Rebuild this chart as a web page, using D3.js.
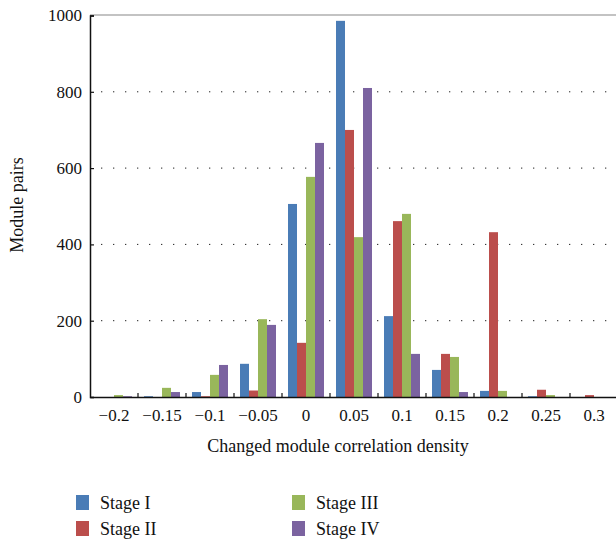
<!DOCTYPE html>
<html><head><meta charset="utf-8">
<script src="https://cdn.jsdelivr.net/npm/d3@7"></script>
<style>body{margin:0;background:#fff}svg{display:block}text{font-family:"Liberation Serif","DejaVu Serif",serif;fill:#111}</style>
</head><body><svg id="c" width="616" height="543"></svg>
<script>
const categories = ["\u22120.2","\u22120.15","\u22120.1","\u22120.05","0","0.05","0.1","0.15","0.2","0.25","0.3"];
const seriesNames = ["Stage I","Stage II","Stage III","Stage IV"];
const stageI   = [0, 2, 13, 87, 506, 986, 212, 71, 16, 2, 0];
const stageII  = [0, 0, 2, 17, 142, 700, 461, 113, 432, 19, 5];
const stageIII = [5, 24, 58, 204, 577, 419, 480, 105, 16, 5, 0];
const stageIV  = [2, 13, 84, 189, 666, 810, 113, 13, 0, 0, 0];
const yTicks = [0, 200, 400, 600, 800, 1000];
const colors = ["#4a7cb6","#bb4e4c","#99b75a","#7b63a0"];
const series = [stageI, stageII, stageIII, stageIV];

const svg = d3.select("#c");
const L = 90, R = 618, T = 15.5, B = 397;
const x = d3.scaleBand().domain(categories).range([L, R]).paddingInner(0).paddingOuter(0);
const xi = d3.scaleBand().domain(seriesNames).range([0, x.bandwidth()]).paddingInner(0).paddingOuter(0.667);
const y = d3.scaleLinear().domain([0, 1000]).range([B, T]);

// grid
svg.append("g").selectAll("line").data(yTicks.filter(d => d > 0 && d < 1000)).join("line")
  .attr("x1", L + 11).attr("x2", R).attr("y1", d => y(d)).attr("y2", d => y(d))
  .attr("stroke", "#222").attr("stroke-width", 1).attr("stroke-dasharray", "1.3,10.7");

// bars
const g = svg.append("g");
series.forEach((s, si) => {
  g.selectAll(null).data(s).join("rect")
    .attr("x", (d, i) => x(categories[i]) + xi(seriesNames[si]))
    .attr("width", xi.bandwidth())
    .attr("y", d => y(d))
    .attr("height", d => B - y(d))
    .attr("fill", colors[si]);
});

// top border
svg.append("line").attr("x1", L).attr("x2", 616).attr("y1", T - 0.5).attr("y2", T - 0.5)
  .attr("stroke", "#888").attr("stroke-width", 1.2);

// y axis
const ya = d3.axisLeft(y).tickValues(yTicks).tickSize(-4).tickPadding(8).tickFormat(d3.format("d"));
const yg = svg.append("g").attr("transform", `translate(${L},0)`).call(ya);
yg.attr("font-family", null);
yg.select(".domain").attr("stroke", "#111").attr("stroke-width", 1.5);
yg.selectAll(".tick line").attr("stroke", "#111").attr("stroke-width", 1.2);
yg.selectAll(".tick text").style("font-size", "17px").attr("fill", "#111");

// x axis
const xa = d3.axisBottom(x).tickSize(0).tickPadding(12);
const xg = svg.append("g").attr("transform", `translate(0,${B})`).call(xa);
xg.attr("font-family", null);
xg.select(".domain").attr("stroke", "#111").attr("stroke-width", 1.5);
xg.selectAll(".tick text").style("font-size", "17px").attr("fill", "#111");
// boundary ticks pointing up
svg.append("g").selectAll("line").data(categories.slice(1)).join("line")
  .attr("x1", d => x(d)).attr("x2", d => x(d)).attr("y1", B).attr("y2", B - 4)
  .attr("stroke", "#111").attr("stroke-width", 1.2);

// titles
svg.append("text").attr("x", 338).attr("y", 452).attr("text-anchor", "middle")
  .style("font-size", "18px").text("Changed module correlation density");
svg.append("text").attr("transform", "translate(23,205) rotate(-90)").attr("text-anchor", "middle")
  .style("font-size", "18px").text("Module pairs");

// legend
const lg = svg.append("g");
const lpos = [[76, 495], [76, 521], [292, 495], [292, 521]];
seriesNames.forEach((n, i) => {
  lg.append("rect").attr("x", lpos[i][0]).attr("y", lpos[i][1]).attr("width", 13).attr("height", 15).attr("fill", colors[i]);
  lg.append("text").attr("x", lpos[i][0] + 24).attr("y", lpos[i][1] + 14).style("font-size", "18px").text(n);
});
</script></body></html>
